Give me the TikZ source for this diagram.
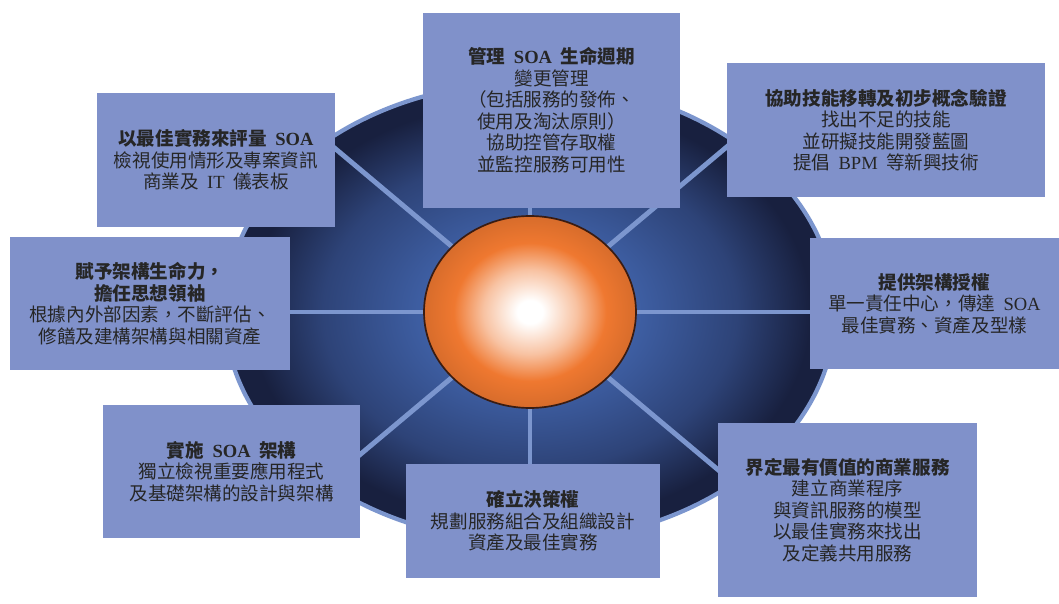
\documentclass[tikz,border=0pt]{standalone}
\usepackage{fontspec}
\setmainfont{Noto Sans CJK TC}
\newfontfamily\lat{Liberation Serif}
\usetikzlibrary{shapes.geometric}
\definecolor{boxblue}{HTML}{8091CA}
\definecolor{spokeblue}{HTML}{7C96CE}
\definecolor{discmid}{HTML}{4366B0}
\definecolor{discdark}{HTML}{18203F}
\definecolor{ballorange}{HTML}{EF7830}
\definecolor{balledge}{HTML}{3A1C12}
\definecolor{bodytext}{HTML}{262626}
% shadings for the wheel and the hub (the path edge sits at 25bp)
\pgfdeclareradialshading{disc}{\pgfpoint{0bp}{0bp}}{color(0bp)=(discmid); color(9bp)=(discmid!92!black); color(17bp)=(discdark!50!discmid); color(23bp)=(discdark); color(50bp)=(discdark)}
\pgfdeclareradialshading{hub}{\pgfpoint{0bp}{0bp}}{color(0bp)=(white); color(3bp)=(white); color(11bp)=(ballorange!45!white); color(18bp)=(ballorange); color(25bp)=(ballorange!90!black); color(50bp)=(ballorange!90!black)}

\begin{document}
\begin{tikzpicture}[
  box/.style={fill=boxblue, align=center, text=bodytext, inner sep=4pt, font=\fontsize{13.2}{15.3}\selectfont},
  spoke/.style={spokeblue, line width=3.5pt}
]
\useasboundingbox (-13.25,-7.3) rectangle (13.225,7.8);

% wheel with spokes
\node[ellipse, draw=spokeblue, line width=3pt, shade, shading=disc, minimum width=15.25cm, minimum height=11.5cm, inner sep=0pt] (disc) at (0,0) {};
\foreach \a in {0,40,90,140,180,220,270,320}
  \draw[spoke] (disc.center) -- (disc.\a);
\node[ellipse, draw=balledge, line width=1.2pt, shade, shading=hub, minimum width=5.3cm, minimum height=4.8cm, inner sep=0pt] (hub) at (0,0) {};

% boxes round the wheel
\node[box, minimum width=6.425cm, minimum height=4.875cm] (lifecycle) at (0.54,5.04)
  {\textbf{管理\ \ {\lat SOA}\ \ 生命週期}\\變更管理\\（包括服務的發佈、\\使用及淘汰原則）\\協助控管存取權\\並監控服務可用性};
\node[box, minimum width=5.95cm, minimum height=3.35cm] (measure) at (-7.85,3.8)
  {\textbf{以最佳實務來評量\ \ {\lat SOA}}\\檢視使用情形及專案資訊\\商業及\ \ {\lat IT}\ \ 儀表板};
\node[box, minimum width=7.95cm, minimum height=3.35cm] (skills) at (8.9,4.55)
  {\textbf{協助技能移轉及初步概念驗證}\\找出不足的技能\\並研擬技能開發藍圖\\提倡\ \ {\lat BPM}\ \ 等新興技術};
\node[box, minimum width=7.0cm, minimum height=3.325cm] (vitality) at (-9.5,0.21)
  {\textbf{賦予架構生命力，}\\\textbf{擔任思想領袖}\\根據內外部因素，不斷評估、\\修饍及建構架構與相關資產};
\node[box, minimum width=6.225cm, minimum height=3.275cm] (authority) at (10.11,0.21)
  {\textbf{提供架構授權}\\單一責任中心，傳達\ \ {\lat SOA}\\最佳實務、資產及型樣};
\node[box, minimum width=6.425cm, minimum height=3.325cm] (implement) at (-7.46,-3.99)
  {\textbf{實施\ \ {\lat SOA}\ \ 架構}\\獨立檢視重要應用程式\\及基礎架構的設計與架構};
\node[box, minimum width=6.35cm, minimum height=2.85cm] (decision) at (0.075,-5.225)
  {\textbf{確立決策權}\\規劃服務組合及組織設計\\資產及最佳實務};
\node[box, minimum width=6.475cm, minimum height=4.35cm] (services) at (7.94,-4.95)
  {\textbf{界定最有價值的商業服務}\\建立商業程序\\與資訊服務的模型\\以最佳實務來找出\\及定義共用服務};
\end{tikzpicture}
\end{document}
